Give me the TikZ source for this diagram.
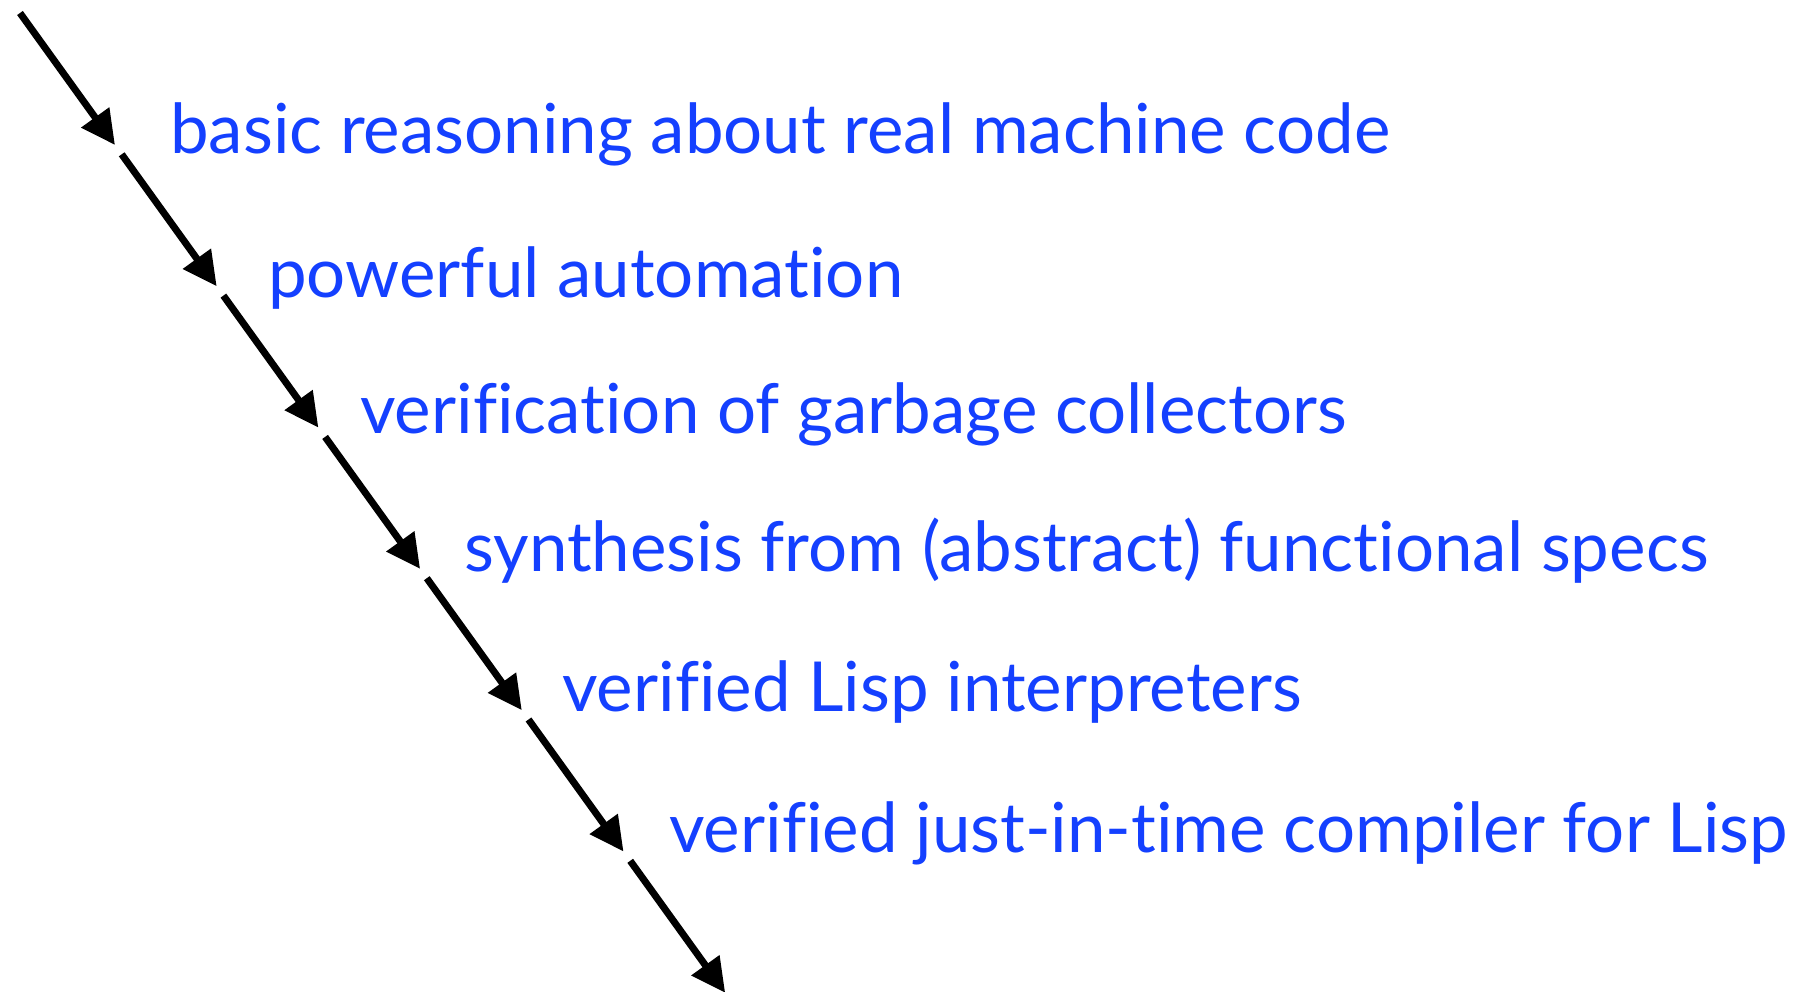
\documentclass[tikz,border=0pt]{standalone}
\usepackage{fontspec}
\setmainfont{Lato}[Ligatures=NoCommon]
\usetikzlibrary{arrows.meta}
\definecolor{stepblue}{RGB}{20,64,255}
\tikzset{
  milestone/.style={anchor=base west, inner sep=0pt, text=stepblue,
    font=\fontsize{69}{73}\selectfont},
  progress/.style={line width=7pt, draw=black,
    -{Triangle[length=34pt,width=33pt]}}
}
\begin{document}
\begin{tikzpicture}[x=1pt,y=-1pt]
  \useasboundingbox (0,0) rectangle (1804,991);
  % start and end points of the seven arrow segments
  \foreach \k in {0,...,6} {
    \coordinate (s\k) at ({20+101.7*\k},{13+141.3*\k});
    \coordinate (t\k) at ({115+101.7*\k},{145+141.3*\k});
  }
  \foreach \k in {0,...,6} {
    \draw[progress] (s\k) -- (t\k);
  }
  \node[milestone] (m1) at (170,153) {basic reasoning about real machine code};
  \node[milestone] (m2) at (268,297) {powerful automation};
  \node[milestone] (m3) at (360,433) {verification of garbage collectors};
  \node[milestone] (m4) at (464,571) {synthesis from (abstract) functional specs};
  \node[milestone] (m5) at (562,711) {verified Lisp interpreters};
  \node[milestone] (m6) at (669,852) {verified just-in-time compiler for Lisp};
\end{tikzpicture}
\end{document}
